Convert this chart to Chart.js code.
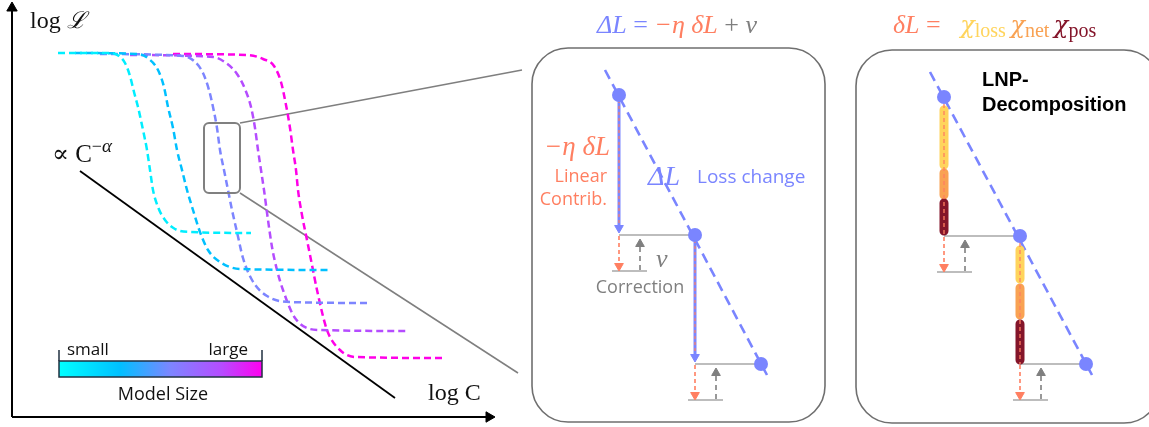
<!DOCTYPE html>
<html>
<head>
<meta charset="utf-8">
<script src="https://cdn.jsdelivr.net/npm/chart.js@4.4.1/dist/chart.umd.min.js"></script>
<style>
  html, body { margin: 0; padding: 0; background: #fff; }
  #wrap { width: 1149px; height: 427px; position: relative; }
</style>
</head>
<body>
<div id="wrap"><canvas id="diagram"></canvas></div>
<script>
// curves of the left panel (log C, log L), small -> large model
const lossSmall  = [[58,53],[110,53],[119,56],[125,63],[130,76],[134,92],[138,107],[143,130],[147,150],[150,170],[153,190],[158,207],[165,220],[175,229],[190,232],[251,233]];
const lossSmallM = [[75,53],[138,54],[149,59],[158,70],[164,87],[168,107],[173,128],[177,150],[182,170],[187,190],[193,210],[200,232],[208,250],[220,262],[240,269],[330,270]];
const lossMid    = [[100,54],[183,56],[194,61],[203,73],[209,90],[213,107],[217,128],[220,150],[224,170],[228,190],[232,210],[237,232],[243,258],[252,280],[267,296],[290,302],[370,303]];
const lossLargeM = [[130,55],[213,57],[226,63],[237,74],[245,89],[251,107],[255,128],[258,150],[261,170],[264,190],[268,220],[272,247],[277,270],[283,290],[295,318],[320,330],[408,331]];
const lossLarge  = [[173,54],[248,55],[263,59],[274,66],[281,82],[286,105],[290,128],[293,150],[296,170],[298,190],[302,215],[307,240],[312,265],[317,290],[327,330],[340,350],[355,357],[443,358]];
const modelSizes = ['small', 'small-mid', 'mid', 'large-mid', 'large'];
const sizeColors = ['#00eeff', '#00c0ff', '#7d85ff', '#b54cff', '#ff00e8'];
const powerLaw   = [[80,171],[395,398]];

// loss steps in the zoomed panels
const stepsMid   = [[619,95],[695,235],[761,364]];
const trendMid   = [[605,70],[767,375]];
const stepsRight = [[944,97],[1020,236],[1086,364]];
const trendRight = [[930,72],[1092,375]];

// LNP segments per step: [x, yTop, yBottom]
const chiLoss = [[944,110,165],[1020,250,279]];
const chiNet  = [[944,173,195],[1020,288,315]];
const chiPos  = [[944,203,231],[1020,324,360]];

const BLUE = '#7a85ff', ORANGE = '#ff7f61', GRAY = '#7f7f7f', LIGHT = '#bdbdbd';
const SERIF = '"Liberation Serif", "DejaVu Serif", serif';
const MATH = '"DejaVu Serif", serif';
const SANS = '"Open Sans", "Noto Sans", sans-serif';

const pts = arr => arr.map(p => ({ x: p[0], y: p[1] }));
const datasets = [];
function path(arr, color, width, dash, extra) {
  datasets.push(Object.assign({
    data: pts(arr), showLine: true, borderColor: color, borderWidth: width,
    borderDash: dash || [], pointRadius: 0, fill: false
  }, extra || {}));
}
function heads(arr, color, rotation, radius) {
  datasets.push({
    data: pts(arr), showLine: false, pointStyle: 'triangle', rotation: rotation,
    pointRadius: radius || 5, backgroundColor: color, borderColor: color, borderWidth: 1
  });
}

// axes of the left panel
path([[12,417],[12,9]], '#000', 2);
path([[12,417],[487,417]], '#000', 2);
heads([[12,8]], '#000', 0, 6);
heads([[489,417]], '#000', 90, 6);
path(powerLaw, '#000', 1.8);

// zoom connectors
path([[240,123],[522,70]], GRAY, 1.5);
path([[240,193],[518,373]], GRAY, 1.5);

// scaling curves, drawn large first so the small model sits on top
[lossLarge, lossLargeM, lossMid, lossSmallM, lossSmall].forEach((c, i) => {
  path(c, sizeColors[4 - i], 2.5, [7, 4], { cubicInterpolationMode: 'monotone' });
});

// one zoomed panel: trend line, steps, corrections
function stepPanel(steps, trend, linear) {
  path(trend, BLUE, 2.6, [10, 6]);
  for (let i = 0; i < steps.length - 1; i++) {
    const [x0, y0] = steps[i];
    const [x1, y1] = steps[i + 1];
    const yEnd = y1 + 35;
    path([[x0, y1], [x1, y1]], LIGHT, 1.8);
    path([[x0 - 7, yEnd + 1], [x0 + 28, yEnd + 1]], LIGHT, 1.8);
    if (linear) {
      path([[x0, y0 + 5], [x0, y1 - 6]], BLUE, 3);
      path([[x0, y0 + 5], [x0, y1 - 6]], ORANGE, 1.2, [3, 3]);
      heads([[x0, y1 - 7]], BLUE, 180, 5);
    }
    path([[x0, y1 + 1], [x0, yEnd - 6]], ORANGE, 1.6, [4, 3]);
    heads([[x0, yEnd - 4]], ORANGE, 180, 5);
    path([[x0 + 21, yEnd], [x0 + 21, y1 + 12]], GRAY, 1.6, [5, 4]);
    heads([[x0 + 21, y1 + 9]], GRAY, 0, 5);
  }
}
stepPanel(stepsMid, trendMid, true);
stepPanel(stepsRight, trendRight, false);

// LNP capsules
[[chiLoss, '#ffd45c'], [chiNet, '#f9a253'], [chiPos, '#84152a']].forEach(([segs, col]) => {
  segs.forEach(s => {
    path([[s[0], s[1]], [s[0], s[2]]], col, 9, [], { borderCapStyle: 'round' });
  });
});
[[944,104,234],[1020,243,364]].forEach(s => path([[s[0], s[1]], [s[0], s[2]]], ORANGE, 1.3, [4, 3]));

// step points
[stepsMid, stepsRight].forEach(s => datasets.push({
  data: pts(s), showLine: false, pointRadius: 7, pointStyle: 'circle',
  backgroundColor: BLUE, borderColor: BLUE, borderWidth: 0
}));

datasets.forEach((d, i) => { d.order = -i; });

// text runs
const it = s => 'italic ' + s + 'px ' + SERIF;
const up = s => s + 'px ' + SERIF;
const chi = s => 'italic ' + s + 'px ' + MATH;
const sans = s => s + 'px ' + SANS;
const bold = s => 'bold ' + s + 'px "Liberation Sans", Arial, sans-serif';
const labels = [
  { x: 30, y: 28, runs: [{ t: 'log ', f: up(24) }, { t: 'ℒ', f: it(23) }] },
  { x: 52, y: 162, runs: [{ t: '∝ C', f: up(25) }, { t: '−', f: up(18), dy: -10 }, { t: 'α', f: it(19), dy: -10 }] },
  { x: 428, y: 400, runs: [{ t: 'log C', f: up(24) }] },
  { x: 67, y: 355, runs: [{ t: 'small', f: sans(17) }] },
  { x: 248, y: 355, align: 'right', runs: [{ t: 'large', f: sans(17) }] },
  { x: 163, y: 400, align: 'center', runs: [{ t: 'Model Size', f: sans(18) }] },
  { x: 677, y: 33, align: 'center', runs: [
    { t: 'ΔL', f: it(26), c: BLUE }, { t: ' = ', f: up(26), c: BLUE },
    { t: '−η δL', f: it(26), c: ORANGE }, { t: ' + ', f: up(26), c: GRAY }, { t: 'ν', f: it(26), c: GRAY }] },
  { x: 893, y: 33, runs: [
    { t: 'δL', f: it(26), c: ORANGE }, { t: ' =   ', f: up(26), c: ORANGE },
    { t: 'χ', f: chi(24), c: '#ffd45c' }, { t: 'loss', f: up(20), c: '#ffd45c', dy: 4 }, { t: ' ', f: up(18) },
    { t: 'χ', f: chi(24), c: '#f9a253' }, { t: 'net', f: up(20), c: '#f9a253', dy: 4 }, { t: ' ', f: up(18) },
    { t: 'χ', f: chi(24), c: '#84152a' }, { t: 'pos', f: up(20), c: '#84152a', dy: 4 }] },
  { x: 610, y: 155, align: 'right', runs: [{ t: '−η δL', f: it(27), c: ORANGE }] },
  { x: 607, y: 182, align: 'right', runs: [{ t: 'Linear', f: sans(18), c: ORANGE }] },
  { x: 607, y: 205, align: 'right', runs: [{ t: 'Contrib.', f: sans(18), c: ORANGE }] },
  { x: 648, y: 185, runs: [{ t: 'ΔL', f: it(28), c: BLUE }] },
  { x: 697, y: 183, runs: [{ t: 'Loss change', f: sans(19), c: BLUE }] },
  { x: 656, y: 267, runs: [{ t: 'ν', f: it(26), c: GRAY }] },
  { x: 640, y: 293, align: 'center', runs: [{ t: 'Correction', f: sans(18), c: GRAY }] },
  { x: 982, y: 86, runs: [{ t: 'LNP-', f: bold(20), c: '#000' }] },
  { x: 982, y: 111, runs: [{ t: 'Decomposition', f: bold(20), c: '#000' }] }
];

const decor = {
  id: 'decor',
  beforeDatasetsDraw(chart) {
    const ctx = chart.ctx, X = v => chart.scales.x.getPixelForValue(v), Y = v => chart.scales.y.getPixelForValue(v);
    ctx.save();
    // panel frames
    ctx.strokeStyle = '#6f6f6f'; ctx.lineWidth = 1.6;
    [[532,48,825,422,36],[856,50,1160,423,36]].forEach(b => {
      ctx.beginPath(); ctx.roundRect(X(b[0]), Y(b[1]), X(b[2]) - X(b[0]), Y(b[3]) - Y(b[1]), b[4]); ctx.stroke();
    });
    // colour bar for model size
    const g = ctx.createLinearGradient(X(59), 0, X(262), 0);
    g.addColorStop(0, '#00ffff'); g.addColorStop(0.3, '#00c0ff'); g.addColorStop(0.55, '#7d85ff');
    g.addColorStop(0.8, '#b54cff'); g.addColorStop(1, '#ff00f0');
    ctx.fillStyle = g; ctx.fillRect(X(59), Y(361), X(262) - X(59), Y(377) - Y(361));
    ctx.strokeStyle = '#203040'; ctx.lineWidth = 1.5;
    ctx.strokeRect(X(59), Y(361), X(262) - X(59), Y(377) - Y(361));
    ctx.beginPath();
    ctx.moveTo(X(59), Y(361)); ctx.lineTo(X(59), Y(350));
    ctx.moveTo(X(262), Y(361)); ctx.lineTo(X(262), Y(350));
    ctx.stroke();
    ctx.restore();
  },
  afterDatasetsDraw(chart) {
    const ctx = chart.ctx, X = v => chart.scales.x.getPixelForValue(v), Y = v => chart.scales.y.getPixelForValue(v);
    ctx.save();
    // zoom window on the left panel
    ctx.strokeStyle = '#808080'; ctx.lineWidth = 2;
    ctx.beginPath(); ctx.roundRect(X(204), Y(123), X(240) - X(204), Y(193) - Y(123), 5); ctx.stroke();
    ctx.textBaseline = 'alphabetic';
    labels.forEach(l => {
      let total = 0;
      l.runs.forEach(r => { ctx.font = r.f; r.w = ctx.measureText(r.t).width; total += r.w; });
      let x = X(l.x);
      if (l.align === 'center') x -= total / 2;
      else if (l.align === 'right') x -= total;
      l.runs.forEach(r => {
        ctx.font = r.f; ctx.fillStyle = r.c || '#111';
        ctx.fillText(r.t, x, Y(l.y) + (r.dy || 0));
        x += r.w;
      });
    });
    ctx.restore();
  }
};

new Chart(document.getElementById('diagram'), {
  type: 'scatter',
  data: { datasets: datasets },
  options: {
    responsive: true,
    maintainAspectRatio: false,
    animation: false,
    layout: { padding: 0, autoPadding: false },
    plugins: { legend: { display: false }, tooltip: { enabled: false } },
    scales: {
      x: { type: 'linear', min: 0, max: 1149, display: false },
      y: { type: 'linear', min: 0, max: 427, reverse: true, display: false }
    }
  },
  plugins: [decor]
});
</script>
</body>
</html>
